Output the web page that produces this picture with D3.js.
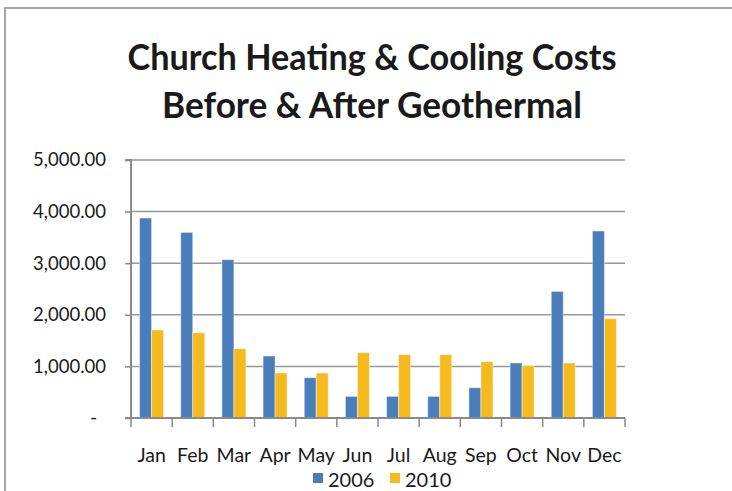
<!DOCTYPE html>
<html>
<head>
<meta charset="utf-8">
<script src="https://cdn.jsdelivr.net/npm/d3@7"></script>
<style>
  html, body { margin: 0; padding: 0; background: #fff; }
  svg { display: block; }
</style>
</head>
<body>
<svg id="chart" width="732" height="491"></svg>
<script>
const months = ["Jan","Feb","Mar","Apr","May","Jun","Jul","Aug","Sep","Oct","Nov","Dec"];
const cost2006 = [3876, 3597, 3068, 1202, 781, 419, 419, 419, 587, 1066, 2453, 3624];
const cost2010 = [1705, 1653, 1343, 872, 872, 1266, 1227, 1227, 1091, 1014, 1066, 1924];
const seriesNames = ["2006", "2010"];
const yTicks = [0, 1000, 2000, 3000, 4000, 5000];
const titleLines = ["Church Heating & Cooling Costs", "Before & After Geothermal"];

const colors = ["#4A7EBB", "#F5BA1E"];
const font = "Lato, 'Open Sans', sans-serif";

const svg = d3.select("#chart");
const W = 732, H = 491;

// outer chart border (top and left visible)
svg.append("line").attr("x1", 4).attr("x2", W).attr("y1", 8).attr("y2", 8)
  .attr("stroke", "#a6a6a6").attr("stroke-width", 2);
svg.append("line").attr("x1", 5).attr("x2", 5).attr("y1", 7).attr("y2", H)
  .attr("stroke", "#a6a6a6").attr("stroke-width", 2);

const plot = { left: 131, right: 625, top: 160, bottom: 418 };

const x = d3.scaleBand().domain(months).range([plot.left, plot.right]).paddingInner(0).paddingOuter(0);
const x1 = d3.scaleBand().domain(seriesNames).range([0, 24]);
const groupOffset = (x.bandwidth() - 24) / 2;
const y = d3.scaleLinear().domain([0, 5000]).range([plot.bottom, plot.top]);

// gridlines
svg.append("g").selectAll("line").data(yTicks.filter(d => d > 0)).join("line")
  .attr("x1", plot.left).attr("x2", plot.right)
  .attr("y1", d => y(d)).attr("y2", d => y(d))
  .attr("stroke", "#979797").attr("stroke-width", 1.5);

// title
svg.append("g").selectAll("text").data(titleLines).join("text")
  .attr("x", 372).attr("y", (d, i) => 70 + i * 48)
  .attr("text-anchor", "middle")
  .attr("font-family", font).attr("font-weight", 700).attr("font-size", 37)
  .attr("fill", "#1a1a1a")
  .attr("textLength", (d, i) => i === 0 ? 489 : 420)
  .attr("lengthAdjust", "spacingAndGlyphs")
  .text(d => d);

// bars
const data = months.map((m, i) => ({ m, vals: [cost2006[i], cost2010[i]] }));
const groups = svg.append("g").selectAll("g").data(data).join("g")
  .attr("transform", d => `translate(${x(d.m) + groupOffset},0)`);
groups.selectAll("rect").data(d => d.vals.map((v, j) => ({ v, s: seriesNames[j], j }))).join("rect")
  .attr("x", d => x1(d.s))
  .attr("y", d => y(d.v))
  .attr("width", x1.bandwidth())
  .attr("height", d => y(0) - y(d.v))
  .attr("fill", d => colors[d.j])
  .attr("stroke", "rgba(255,255,255,0.45)")
  .attr("stroke-width", 1);

// y axis
const yAxis = d3.axisLeft(y).tickValues(yTicks).tickSize(6).tickPadding(0)
  .tickFormat(d => d === 0 ? "" : d3.format(",.2f")(d));
const yg = svg.append("g").attr("transform", `translate(${plot.left},0)`).call(yAxis);
yg.select(".domain").attr("stroke", "#8a8a8a").attr("stroke-width", 2).attr("d", `M-6,${plot.top}H0V${plot.bottom}H-6`);
yg.selectAll(".tick line").attr("stroke", "#8a8a8a").attr("stroke-width", 1.5);
yg.selectAll(".tick text")
  .attr("x", -25)
  .attr("font-family", font).attr("font-size", 18.5).attr("fill", "#1a1a1a");
// zero label as a dash
yg.selectAll(".tick").filter(d => d === 0).append("text")
  .attr("x", -34).attr("dy", "0.32em").attr("text-anchor", "end")
  .attr("font-family", font).attr("font-size", 18.5).attr("fill", "#1a1a1a")
  .text("-");

// x axis
const xAxis = d3.axisBottom(x).tickSize(0).tickPadding(0);
const xg = svg.append("g").attr("transform", `translate(0,${plot.bottom})`).call(xAxis);
xg.select(".domain").attr("stroke", "#8a8a8a").attr("stroke-width", 2).attr("d", `M${plot.left},0H${plot.right}`);
xg.selectAll(".tick text").attr("y", 44).attr("dy", 0)
  .attr("font-family", font).attr("font-size", 19.5).attr("fill", "#1a1a1a");
// category separator ticks
const sepX = months.map(m => x(m)).concat([plot.right]);
xg.append("g").selectAll("line").data(sepX).join("line")
  .attr("x1", d => d).attr("x2", d => d).attr("y1", 0).attr("y2", 9)
  .attr("stroke", "#8a8a8a").attr("stroke-width", 1.5);

// legend
const legend = svg.append("g");
const legendX = [313, 390];
seriesNames.forEach((s, i) => {
  legend.append("rect").attr("x", legendX[i]).attr("y", 473).attr("width", 10).attr("height", 10)
    .attr("fill", colors[i]);
  legend.append("text").attr("x", legendX[i] + 15).attr("y", 487)
    .attr("font-family", font).attr("font-size", 20).attr("fill", "#1a1a1a")
    .text(s);
});
</script>
</body>
</html>
